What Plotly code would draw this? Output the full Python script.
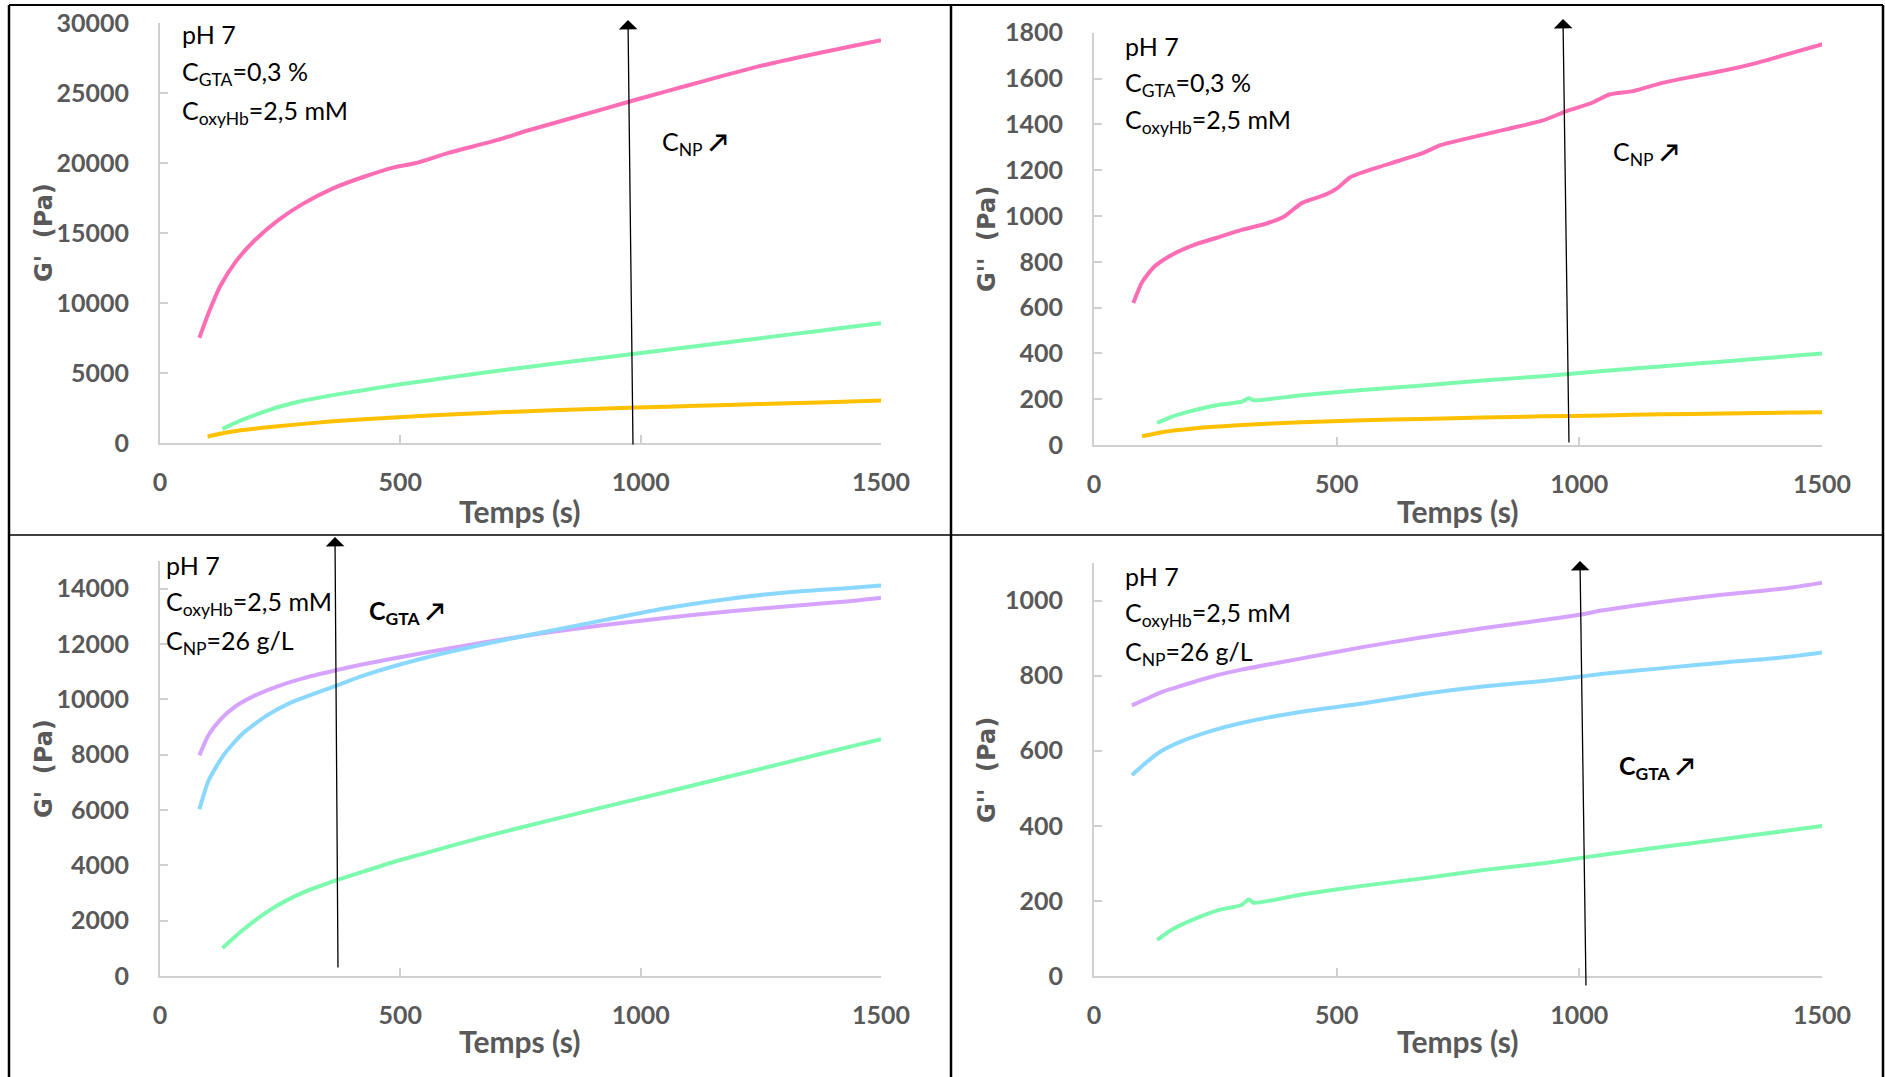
import plotly.graph_objects as go

W, H = 1885, 1077

# ---------------- data ----------------
# Panel 1 / 2 : pH 7, C_GTA = 0.3 %, C_oxyHb = 2.5 mM, C_NP varied
t_pink_g1 = [82, 101, 126, 158, 196, 246, 297, 360, 423, 487, 531, 600, 701, 765, 866, 979, 1055, 1131, 1245, 1371, 1500]
g1_pink = [7506, 9278, 11247, 12970, 14446, 15923, 17080, 18190, 19000, 19690, 19980, 20720, 21630, 22320, 23300,
           24410, 25130, 25850, 26900, 27860, 28770]

t_green_g1 = [130, 171, 234, 297, 366, 423, 487, 550, 613, 676, 802, 929, 1055, 1182, 1308, 1434, 1500]
g1_green = [1013, 1646, 2443, 3013, 3456, 3772, 4130, 4430, 4740, 5038, 5590, 6130, 6660, 7200, 7740, 8280, 8557]

t_orange_g1 = [99, 145, 234, 360, 487, 613, 739, 866, 992, 1118, 1245, 1371, 1500]
g1_orange = [470, 790, 1160, 1550, 1830, 2050, 2240, 2400, 2530, 2660, 2780, 2900, 3030]

t_pink_g2 = [81, 99, 124, 161, 205, 255, 304, 354, 391, 428, 478, 503, 528, 577, 627, 677, 714, 776, 851, 925,
             975, 1024, 1062, 1111, 1173, 1235, 1298, 1360, 1422, 1502]
g2_pink = [620, 711, 778, 831, 873, 906, 939, 966, 996, 1056, 1094, 1124, 1169, 1207, 1240, 1274, 1309, 1342,
           1379, 1417, 1459, 1492, 1530, 1545, 1582, 1609, 1635, 1665, 1702, 1750]

t_green_g2 = [130, 161, 205, 255, 304, 319, 329, 428, 553, 677, 801, 925, 1000, 1049, 1173, 1298, 1422, 1502]
g2_green = [96, 124, 151, 175, 189, 204, 195, 217, 240, 260, 282, 300, 314, 323, 344, 365, 386, 400]

t_orange_g2 = [99, 143, 205, 304, 428, 553, 677, 801, 925, 1049, 1173, 1298, 1500]
g2_orange = [38, 57, 72, 87, 99, 108, 114, 120, 125, 129, 134, 137, 143]

# Panel 3 / 4 : pH 7, C_oxyHb = 2.5 mM, C_NP = 26 g/L, C_GTA varied
t_violet_g1 = [82, 101, 126, 158, 196, 246, 297, 366, 423, 550, 676, 802, 929, 1055, 1182, 1308, 1434, 1500]
g1_violet = [7975, 8709, 9278, 9759, 10126, 10480, 10759, 11050, 11266, 11683, 12063, 12405, 12696, 12949,
             13177, 13367, 13544, 13671]

t_blue_g1 = [82, 101, 133, 171, 221, 272, 366, 423, 550, 676, 765, 929, 1055, 1182, 1308, 1434, 1500]
g1_blue = [6025, 7063, 8000, 8750, 9400, 9880, 10490, 10860, 11493, 12000, 12316, 12880, 13300, 13630, 13873,
           14025, 14114]

t_violet_g2 = [78, 106, 143, 180, 242, 304, 428, 553, 677, 801, 925, 1000, 1049, 1173, 1298, 1422, 1502]
g2_violet = [721, 737, 758, 773, 797, 816, 846, 876, 902, 926, 948, 962, 974, 997, 1016, 1032, 1048]

t_blue_g2 = [78, 106, 137, 180, 242, 304, 428, 553, 677, 801, 925, 1000, 1049, 1173, 1298, 1422, 1502]
g2_blue = [535, 567, 598, 625, 653, 674, 704, 726, 751, 771, 786, 797, 805, 820, 835, 849, 862]

x_ticks = [0, 500, 1000, 1500]
y_ticks_1 = [0, 5000, 10000, 15000, 20000, 25000, 30000]
y_ticks_2 = [0, 200, 400, 600, 800, 1000, 1200, 1400, 1600, 1800]
y_ticks_3 = [0, 2000, 4000, 6000, 8000, 10000, 12000, 14000]
y_ticks_4 = [0, 200, 400, 600, 800, 1000]

PINK = "#FF6EB4"
GREEN = "#7CFAAE"
ORANGE = "#FFC000"
BLUE = "#8AD8FF"
VIOLET = "#D6A4FF"

fig = go.Figure()


def add_line(t, v, color, ax):
    fig.add_trace(go.Scatter(x=t, y=v, mode="lines", line=dict(color=color, width=4, shape="spline", smoothing=0.6),
                             xaxis="x" + ax, yaxis="y" + ax, showlegend=False, hoverinfo="skip"))


add_line(t_orange_g1, g1_orange, ORANGE, "")
add_line(t_green_g1, g1_green, GREEN, "")
add_line(t_pink_g1, g1_pink, PINK, "")

add_line(t_orange_g2, g2_orange, ORANGE, "2")
add_line(t_green_g2, g2_green, GREEN, "2")
add_line(t_pink_g2, g2_pink, PINK, "2")

add_line(t_green_g1, g1_green, GREEN, "3")
add_line(t_violet_g1, g1_violet, VIOLET, "3")
add_line(t_blue_g1, g1_blue, BLUE, "3")

add_line(t_green_g2, g2_green, GREEN, "4")
add_line(t_blue_g2, g2_blue, BLUE, "4")
add_line(t_violet_g2, g2_violet, VIOLET, "4")


def px(x):
    return x / W


def py(y):
    return 1 - y / H


TICKFONT = dict(family="Lato, Open Sans, sans-serif", size=25, color="#595959", weight="bold")
AXCOL = "#D0D0D0"


def xaxis(dom, anchor):
    return dict(domain=dom, anchor=anchor, range=[0, 1500], tickvals=x_ticks, tickformat="d", showgrid=False,
                zeroline=False, automargin=False,
                showline=True, linecolor=AXCOL, linewidth=2, ticks="inside", ticklen=8, tickwidth=1.5,
                tickcolor=AXCOL, tickfont=TICKFONT, ticklabelstandoff=16, fixedrange=True)


def yaxis(dom, anchor, rng, ticks):
    return dict(domain=dom, anchor=anchor, range=rng, tickvals=ticks, tickformat="d", showgrid=False,
                zeroline=False, automargin=False,
                showline=True, linecolor=AXCOL, linewidth=2, ticks="inside", ticklen=8, tickwidth=1.5,
                tickcolor=AXCOL, tickfont=TICKFONT, ticklabelstandoff=24, fixedrange=True)


XL = [px(160), px(881)]
XR = [px(1094), px(1822)]

fig.update_layout(
    template="none",
    width=W, height=H, margin=dict(l=0, r=0, t=0, b=0, pad=0, autoexpand=False),
    paper_bgcolor="white", plot_bgcolor="white", showlegend=False,
    xaxis=xaxis(XL, "y"), yaxis=yaxis([py(443), py(23)], "x", [0, 30000], y_ticks_1),
    xaxis2=xaxis(XR, "y2"), yaxis2=yaxis([py(445), py(32.7)], "x2", [0, 1800], y_ticks_2),
    xaxis3=xaxis(XL, "y3"), yaxis3=yaxis([py(976), py(561)], "x3", [0, 15000], y_ticks_3),
    xaxis4=xaxis(XR, "y4"), yaxis4=yaxis([py(976), py(563)], "x4", [0, 1100], y_ticks_4),
)

ann = []
TXT = dict(family="Lato, Open Sans, sans-serif", size=25, color="black")
TXTB = dict(family="Lato, Open Sans, sans-serif", size=25, color="black", weight="bold")
TITLE = dict(family="Lato, Open Sans, sans-serif", size=30, color="#595959", weight="bold")
YTITLE = dict(family="DejaVu Sans, sans-serif", size=24, color="#595959", weight="bold")


def text(x, y, s, font=TXT):
    ann.append(dict(xref="paper", yref="paper", x=px(x), y=py(y), text=s, showarrow=False,
                    xanchor="left", yanchor="middle", font=font))


# info text
for (x0, ys, lines) in [
    (180, [34, 73, 112], ["pH 7", "C<sub>GTA</sub>=0,3 %", "C<sub>oxyHb</sub>=2,5 mM"]),
    (1123, [46, 84, 121], ["pH 7", "C<sub>GTA</sub>=0,3 %", "C<sub>oxyHb</sub>=2,5 mM"]),
    (164, [565, 603, 642], ["pH 7", "C<sub>oxyHb</sub>=2,5 mM", "C<sub>NP</sub>=26 g/L"]),
    (1123, [576, 614, 653], ["pH 7", "C<sub>oxyHb</sub>=2,5 mM", "C<sub>NP</sub>=26 g/L"]),
]:
    for yy, s in zip(ys, lines):
        text(x0, yy, s)

text(660, 143, "C<sub>NP</sub> <b>↗</b>")
text(1611, 153, "C<sub>NP</sub> <b>↗</b>")
text(367, 612, "C<sub>GTA</sub> ↗", TXTB)
text(1617, 767, "C<sub>GTA</sub> ↗", TXTB)

# axis titles
for cx, cy in [(520, 511), (1458, 511), (520, 1041), (1458, 1041)]:
    ann.append(dict(xref="paper", yref="paper", x=px(cx), y=py(cy), text="Temps (s)", showarrow=False,
                    xanchor="center", yanchor="middle", font=TITLE))
for cx, cy, s in [(44, 233, "G'  (Pa)"), (987, 239, "G''  (Pa)"), (44, 769, "G'  (Pa)"), (987, 770, "G''  (Pa)")]:
    ann.append(dict(xref="paper", yref="paper", x=px(cx), y=py(cy), text=s, showarrow=False, textangle=-90,
                    xanchor="center", yanchor="middle", font=YTITLE))

# trend arrows: head position (page px) and tail offset (px)
for hx, hy, tx, ty in [(628, 20, 633, 446), (1563, 19, 1569, 444), (335, 537, 338, 969), (1580, 561, 1586, 987)]:
    ann.append(dict(xref="paper", yref="paper", x=px(hx), y=py(hy), ax=tx - hx, ay=ty - hy, text="",
                    showarrow=True, arrowhead=1, arrowsize=2.4, arrowwidth=1.3, arrowcolor="black"))

fig.update_layout(annotations=ann)

# panel frame lines
shapes = []
for x0, y0, x1, y1, w in [(9, 5, 1883, 5, 2), (9, 5, 9, 1077, 2.5), (1883, 5, 1883, 1077, 2.5),
                          (951, 5, 951, 1077, 2.5), (9, 535, 1883, 535, 1.5)]:
    shapes.append(dict(type="line", xref="paper", yref="paper", x0=px(x0), y0=py(y0), x1=px(x1), y1=py(y1),
                       line=dict(color="black", width=w)))
fig.update_layout(shapes=shapes)

fig.write_html("out.html", config={"displayModeBar": False},
               post_script="document.body.style.margin='0';document.body.style.overflow='hidden';")
